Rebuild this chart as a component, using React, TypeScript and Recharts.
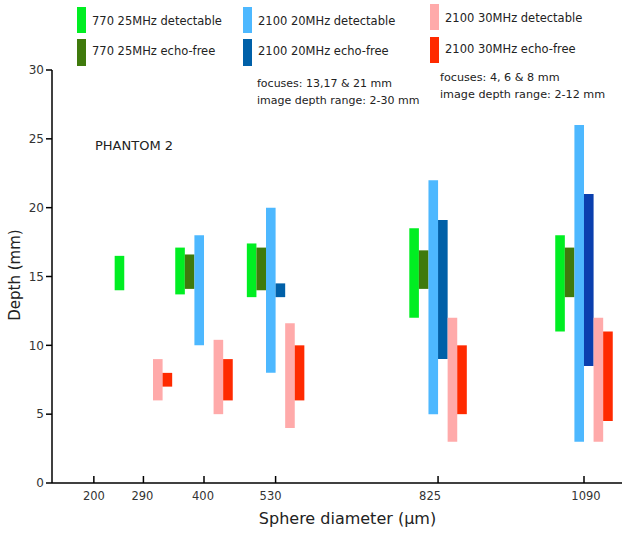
import { ScatterChart, Scatter, XAxis, YAxis, ErrorBar } from 'recharts';

// sphere diameters (µm) shown on the x axis
const diameters = [200, 290, 400, 530, 825, 1090];
const depthTicks = [0, 5, 10, 15, 20, 25, 30];

// depth ranges [low, high] in mm, per sphere diameter (null = nothing seen)
const det770: ([number, number] | null)[] = [null, [14, 16.5], [13.7, 17.1], [13.5, 17.4], [12, 18.5], [11, 18]];
const echo770: ([number, number] | null)[] = [null, null, [14.1, 16.6], [14, 17.1], [14.1, 16.9], [13.5, 17.1]];
const det2100a: ([number, number] | null)[] = [null, null, [10, 18], [8, 20], [5, 22], [3, 26]];
const echo2100a: ([number, number] | null)[] = [null, null, null, [13.5, 14.5], [9, 19.1], [8.5, 21]];
const det2100b: ([number, number] | null)[] = [null, [6, 9], [5, 10.4], [4, 11.6], [3, 12], [3, 12]];
const echo2100b: ([number, number] | null)[] = [null, [7, 8], [6, 9], [6, 10], [5, 10], [4.5, 11]];

const SLOT = 17.4; // µm between neighbouring bars in a group
const BAR_W = 9.6;

const series = [
  { name: '770 25MHz detectable', values: det770, color: '#00ee22', slot: 0 },
  { name: '770 25MHz echo-free', values: echo770, color: '#3f7a0c', slot: 1 },
  { name: '2100 20MHz detectable', values: det2100a, color: '#4db8ff', slot: 2 },
  { name: '2100 20MHz echo-free', values: echo2100a, color: '#0060a8', slot: 3, lastColor: '#0a3fae' },
  { name: '2100 30MHz detectable', values: det2100b, color: '#ffaaaa', slot: 4 },
  { name: '2100 30MHz echo-free', values: echo2100b, color: '#ff2a00', slot: 5 },
];

function toPoints(values: ([number, number] | null)[], slot: number, from = 0, to = diameters.length) {
  const pts: { x: number; y: number; err: [number, number] }[] = [];
  values.forEach((r, i) => {
    if (!r || i < from || i >= to) return;
    const half = (r[1] - r[0]) / 2;
    pts.push({ x: diameters[i] + (slot - 2.5) * SLOT, y: (r[0] + r[1]) / 2, err: [half, half] });
  });
  return pts;
}

const font = "'DejaVu Sans', sans-serif";

// the original labels sit a touch off their tick marks
const labelNudge: Record<number, number> = { 200: 0, 290: -1, 400: -1, 530: -5, 825: -8, 1090: 2 };

const XTick = (props: any) => {
  const { x, y, payload } = props;
  return (
    <g>
      <line x1={x} y1={y} x2={x} y2={y - 7} stroke="#000" strokeWidth={1.5} />
      <text
        x={x + (labelNudge[payload.value] || 0)}
        y={y + 17}
        textAnchor="middle"
        fontSize={11.5}
        fill="#333"
        fontFamily={font}
      >
        {payload.value}
      </text>
    </g>
  );
};

const legendCols = [
  { x: 77, textX: 92, items: [series[0], series[1]], rows: [[7, 33, 20.5], [39, 66, 50.5]] },
  { x: 243, textX: 258, items: [series[2], series[3]], rows: [[7, 33, 20.5], [39, 66, 50.5]] },
  { x: 430, textX: 445, items: [series[4], series[5]], rows: [[4, 30, 17.5], [37, 63, 48.5]] },
];

const renderSeries = (key: string, pts: any[], color: string) => (
  <Scatter key={key} name={key} data={pts} shape={() => <g />} isAnimationActive={false}>
    <ErrorBar
      dataKey="err"
      direction="y"
      width={0}
      stroke={color}
      strokeWidth={BAR_W}
      isAnimationActive={false}
    />
  </Scatter>
);

export default function App() {
  return (
    <div style={{ position: 'absolute', left: 0, top: 0, width: 629, height: 535, background: '#fff', fontFamily: font }}>
      <ScatterChart width={629} height={535} margin={{ top: 70, right: 7, bottom: 22, left: 0 }}>
        <XAxis
          type="number"
          dataKey="x"
          domain={[124, 1159]}
          ticks={diameters}
          allowDataOverflow
          tickLine={false}
          tickSize={0}
          tickMargin={0}
          tick={<XTick />}
          height={30}
          axisLine={{ stroke: '#000', strokeWidth: 1.5 }}
        />
        <YAxis
          type="number"
          dataKey="y"
          domain={[0, 30]}
          ticks={depthTicks}
          allowDataOverflow
          width={52}
          tickSize={6}
          tickLine={{ stroke: '#000', strokeWidth: 1.5 }}
          axisLine={{ stroke: '#000', strokeWidth: 1.5 }}
          tick={{ fontSize: 12, fill: '#333', fontFamily: font }}
        />
        {series.map((s) =>
          s.lastColor
            ? [
                renderSeries(s.name, toPoints(s.values, s.slot, 0, diameters.length - 1), s.color),
                renderSeries(s.name + ' (1090)', toPoints(s.values, s.slot, diameters.length - 1), s.lastColor),
              ]
            : renderSeries(s.name, toPoints(s.values, s.slot), s.color)
        )}
      </ScatterChart>

      {legendCols.map((c) =>
        c.items.map((s, i) => (
          <div key={s.name}>
            <div
              style={{
                position: 'absolute',
                left: c.x,
                top: c.rows[i][0],
                width: 9,
                height: c.rows[i][1] - c.rows[i][0],
                background: s.color,
              }}
            />
            <div
              style={{
                position: 'absolute',
                left: c.textX,
                top: c.rows[i][2] - 8,
                fontSize: 11.5,
                lineHeight: '16px',
                color: '#222',
                whiteSpace: 'nowrap',
              }}
            >
              {s.name}
            </div>
          </div>
        ))
      )}

      <div style={{ position: 'absolute', left: 257, top: 76, fontSize: 11, lineHeight: '16.5px', color: '#222', whiteSpace: 'nowrap' }}>
        focuses: 13,17 &amp; 21 mm
        <br />
        image depth range: 2-30 mm
      </div>
      <div style={{ position: 'absolute', left: 440, top: 70, fontSize: 11.2, lineHeight: '16.5px', color: '#222', whiteSpace: 'nowrap' }}>
        focuses: 4, 6 &amp; 8 mm
        <br />
        image depth range: 2-12 mm
      </div>
      <div style={{ position: 'absolute', left: 95, top: 138, fontSize: 13, lineHeight: '16px', color: '#222', whiteSpace: 'nowrap' }}>
        PHANTOM 2
      </div>
      <div style={{ position: 'absolute', left: 0, width: 629, top: 509, paddingLeft: 66, boxSizing: 'border-box', textAlign: 'center', fontSize: 16, lineHeight: '20px', color: '#222' }}>
        Sphere diameter (µm)
      </div>
      <div
        style={{
          position: 'absolute',
          left: 15,
          top: 275,
          transform: 'translate(-50%, -50%) rotate(-90deg)',
          fontSize: 15,
          lineHeight: '18px',
          color: '#222',
          whiteSpace: 'nowrap',
        }}
      >
        Depth (mm)
      </div>
    </div>
  );
}
